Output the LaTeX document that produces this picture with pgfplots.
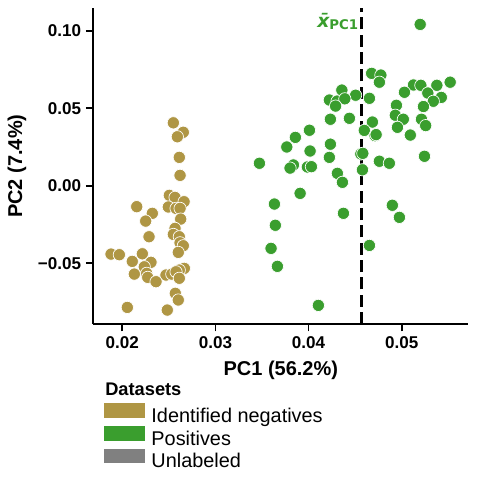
\documentclass[border=0pt]{standalone}
\usepackage{pgfplots}
\pgfplotsset{compat=1.18}
\usepackage{fontspec}
\setmainfont{Liberation Sans}
\newfontfamily\dejavu{DejaVu Sans}
\definecolor{tanc}{HTML}{AF9644}
\definecolor{greenc}{HTML}{3A9E2E}
\definecolor{grayc}{HTML}{808080}
\begin{document}
\begin{tikzpicture}
\path[use as bounding box] (0,0) rectangle (357pt,-358.5pt);
\begin{axis}[
  scale only axis, width=281.25pt, height=236.8pt,
  at={(70pt,-243pt)}, anchor=south west,
  xmin=0.01689, xmax=0.05715, ymin=-0.0892, ymax=0.1145,
  axis x line*=bottom, axis y line*=left,
  axis line style={line width=1.6pt, -},
  scaled x ticks=false, scaled y ticks=false,
  xtick={0.02,0.03,0.04,0.05}, xticklabels={0.02,0.03,0.04,0.05},
  ytick={-0.05,0,0.05,0.1}, yticklabels={−0.05,0.00,0.05,0.10},
  tick align=outside, major tick length=5.6pt,
  tick style={line width=1.3pt, black},
  ticklabel style={font=\bfseries\fontsize{12.8}{14}\selectfont},
  xlabel={PC1 (56.2\%)}, ylabel={PC2 (7.4\%)},
  label style={font=\bfseries\fontsize{15}{17}\selectfont},
  xlabel style={at={(axis description cs:0.5,-0.1457)}, anchor=center},
  ylabel style={at={(axis description cs:-0.2034,0.5)}, anchor=center},
  clip=false,
  legend cell align=left,
  legend style={at={(axis description cs:0.02845,-0.2515)}, anchor=north west,
    draw=none, fill=none, inner sep=0pt, outer sep=0pt,
    font=\fontsize{14.9}{17}\selectfont, row sep=-1pt,
    nodes={inner sep=0pt, text height=11pt, text depth=3.5pt},
    /tikz/every odd column/.append style={column sep=5.2pt}},
]
\addplot[only marks, mark=*, mark size=4.6pt, mark options={fill=tanc, draw=white, line width=0.5pt}, forget plot] coordinates {
(0.02548,0.0406) (0.02655,0.0345) (0.02591,0.0316) (0.02612,0.0183) (0.02620,0.0067)
(0.02505,-0.0062) (0.02566,-0.0075) (0.02663,-0.0103) (0.02155,-0.0135) (0.02494,-0.0137)
(0.02577,-0.0146) (0.02620,-0.0146) (0.02322,-0.0178) (0.02251,-0.0228) (0.02627,-0.0215)
(0.02566,-0.0275) (0.02548,-0.0314) (0.02612,-0.0329) (0.02287,-0.0329) (0.02620,-0.0368)
(0.02655,-0.0387) (0.02601,-0.0430) (0.01879,-0.0441) (0.01968,-0.0445) (0.02215,-0.0439)
(0.02107,-0.0488) (0.02308,-0.0494) (0.02236,-0.0523) (0.02666,-0.0533) (0.02612,-0.0544)
(0.02129,-0.0570) (0.02262,-0.0565) (0.02469,-0.0576) (0.02531,-0.0570) (0.02577,-0.0555)
(0.02273,-0.0591) (0.02362,-0.0619) (0.02612,-0.0597) (0.02569,-0.0694) (0.02601,-0.0737)
(0.02054,-0.0785) (0.02483,-0.0802)
};
\addplot[only marks, mark=*, mark size=4.6pt, mark options={fill=greenc, draw=white, line width=0.5pt}, forget plot] coordinates {
(0.05198,0.1041) (0.04677,0.0725) (0.04776,0.0714) (0.04760,0.0668) (0.05520,0.0668)
(0.05126,0.0650) (0.05205,0.0648) (0.05377,0.0648) (0.05029,0.0603) (0.05280,0.0598)
(0.04357,0.0617) (0.04505,0.0584) (0.04223,0.0553) (0.04306,0.0546) (0.04389,0.0561)
(0.04653,0.0564) (0.05425,0.0570) (0.05339,0.0545) (0.04290,0.0514) (0.04943,0.0519)
(0.05233,0.0511) (0.04931,0.0455) (0.05017,0.0429) (0.05212,0.0429) (0.04234,0.0429)
(0.04438,0.0435) (0.04685,0.0411) (0.05257,0.0388) (0.04954,0.0377) (0.04598,0.0357)
(0.04009,0.0358) (0.04714,0.0323) (0.04725,0.0330) (0.05092,0.0327) (0.03858,0.0312)
(0.03766,0.0250) (0.04234,0.0268) (0.04016,0.0224) (0.04561,0.0205) (0.04582,0.0209)
(0.05244,0.0190) (0.04223,0.0183) (0.03472,0.0145) (0.03837,0.0134) (0.03801,0.0114)
(0.03987,0.0121) (0.04030,0.0123) (0.04760,0.0158) (0.04867,0.0145) (0.04309,0.0080)
(0.04578,0.0103) (0.04363,0.0022) (0.03909,-0.0049) (0.03633,-0.0118) (0.04899,-0.0126)
(0.04374,-0.0178) (0.04975,-0.0204) (0.03643,-0.0255) (0.03597,-0.0404) (0.04653,-0.0385)
(0.03665,-0.0520) (0.04105,-0.0772)
};
\addplot[black, line width=2.2pt, dash pattern=on 9pt off 4pt, forget plot] coordinates {(0.04573,-0.0892) (0.04573,0.1145)};
\node[anchor=base east, inner sep=0pt, text=greenc, xshift=-2.6pt] at (axis cs:0.04573,0.1022)
  {\dejavu\bfseries\fontsize{14}{16}\selectfont\itshape x\char"0304\upshape\raisebox{-1.5pt}{\fontsize{10}{12}\selectfont PC1}};
\addlegendimage{legend image code/.code={\fill[tanc] (0pt,0.2pt) rectangle (30pt,10.5pt);}}
\addlegendentry{Identified negatives}
\addlegendimage{legend image code/.code={\fill[greenc] (0pt,0.2pt) rectangle (30pt,10.5pt);}}
\addlegendentry{Positives}
\addlegendimage{legend image code/.code={\fill[grayc] (0pt,0.2pt) rectangle (30pt,10.5pt);}}
\addlegendentry{Unlabeled}
\end{axis}
\node[anchor=base west, inner sep=0pt, font=\bfseries\fontsize{13.7}{16}\selectfont] at (78.75pt,-296.8pt) {Datasets};
\end{tikzpicture}
\end{document}
